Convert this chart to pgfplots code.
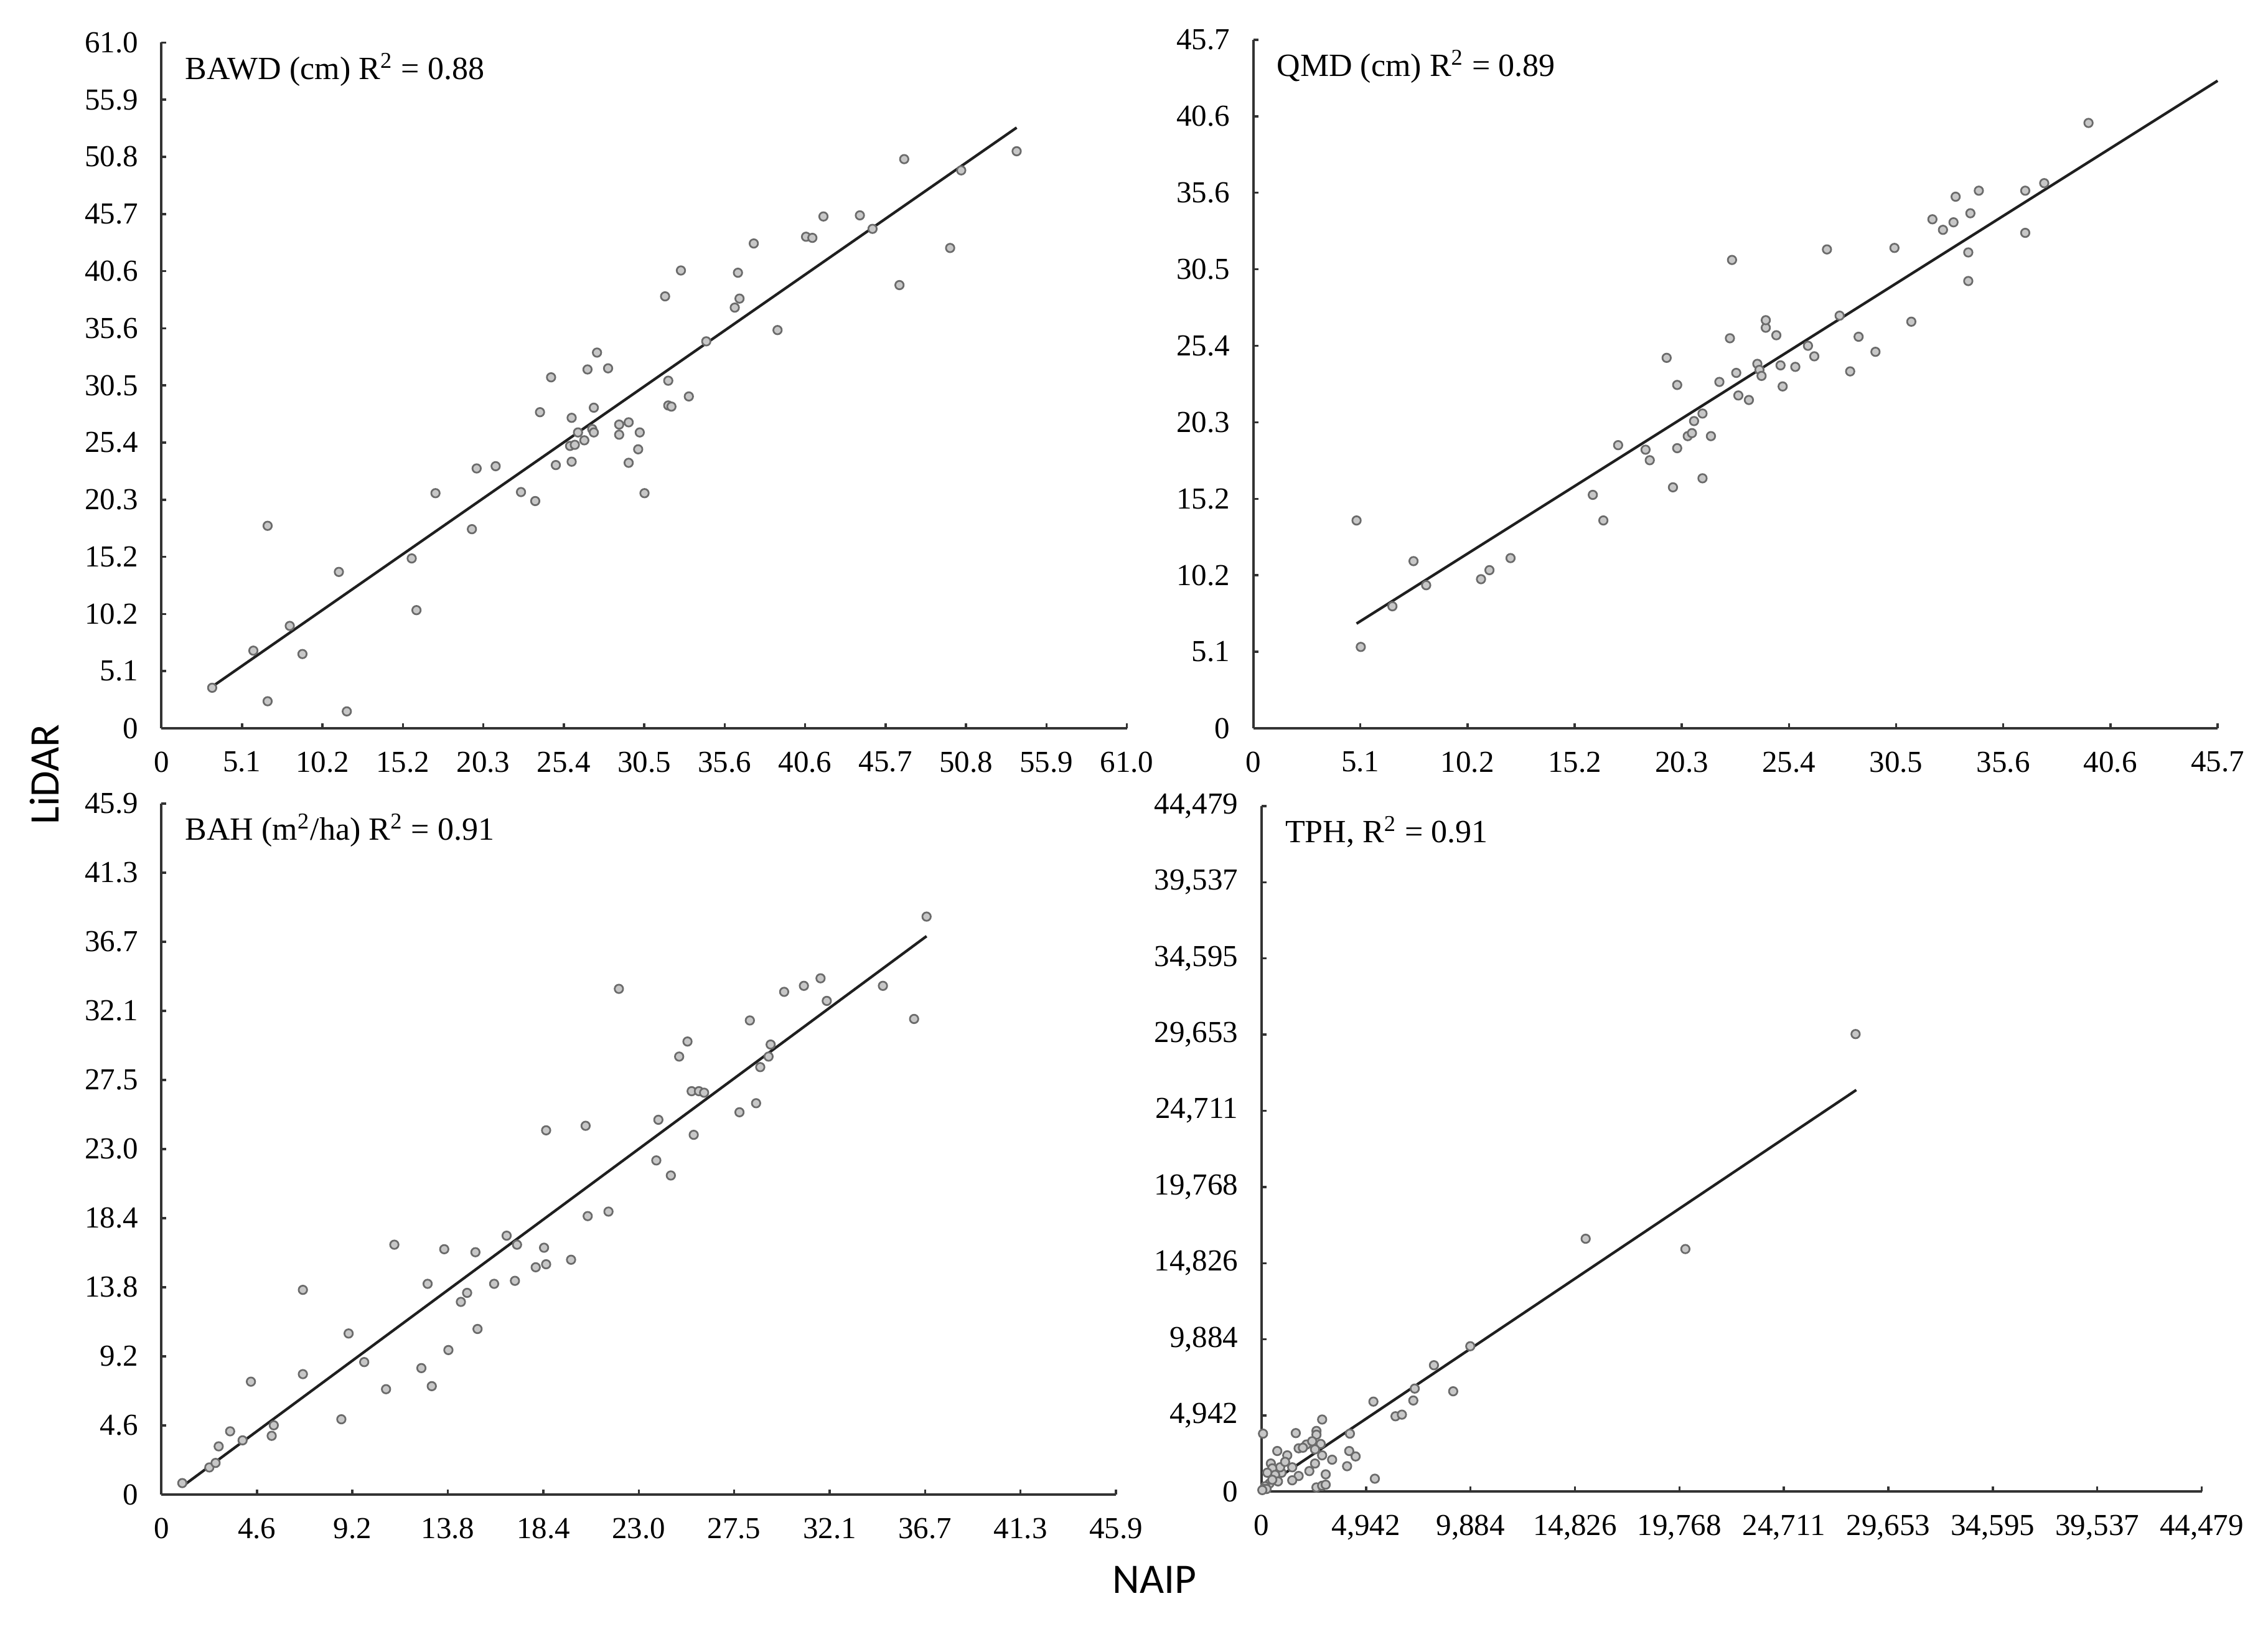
\documentclass[border=0pt]{standalone}
\usepackage{fontspec}
\setmainfont{Liberation Serif}
\newfontfamily\carlito{Carlito}
\usepackage{pgfplots}
\pgfplotsset{compat=1.18}
\pgfplotsset{
  myax/.style={
    scale only axis,
    anchor=south west,
    axis lines=left,
    axis line style={-, line width=0.8pt, black!80},
    tick align=inside,
    major tick length=1.6pt,
    tick style={line width=0.7pt, black!80},
    ymin=0, xmin=0,
    clip=false,
    tick label style={font=\fontsize{9.8}{10}\selectfont},
    xticklabel style={yshift=-4.0pt},
    yticklabel style={xshift=-4.0pt},
  },
  pts/.style={only marks, mark=*, mark size=1.35pt,
    mark options={fill=black!22, draw=black!58, line width=0.55pt}},
  fit/.style={no marks, line width=0.85pt, black!88},
}
\newcommand{\ptitle}[1]{\node[anchor=base west, inner sep=0pt, font=\fontsize{10.4}{11}\selectfont] at ([xshift=7.4pt,yshift=-11.8pt]rel axis cs:0,1) {#1};}
\begin{document}
\begin{tikzpicture}
\useasboundingbox (0,0) rectangle (728.8pt,523.4pt);

% ---------- Panel 1: BAWD ----------
\begin{axis}[myax, at={(51.9pt,289.4pt)}, width=310.2pt, height=220.3pt,
  xmax=60.96, ymax=60.96,
  xtick={0,5.08,10.16,15.24,20.32,25.4,30.48,35.56,40.64,45.72,50.8,55.88,60.96},
  xticklabels={0,5.1,10.2,15.2,20.3,25.4,30.5,35.6,40.6,45.7,50.8,55.9,61.0},
  ytick={0,5.08,10.16,15.24,20.32,25.4,30.48,35.56,40.64,45.72,50.8,55.88,60.96},
  yticklabels={0,5.1,10.2,15.2,20.3,25.4,30.5,35.6,40.6,45.7,50.8,55.9,61.0}]
\addplot[pts] coordinates {
(3.2,3.6) (5.8,6.9) (6.7,18.0) (6.7,2.4) (8.1,9.1) (8.9,6.6) (11.2,13.9) (11.7,1.5)
(15.8,15.1) (16.1,10.5) (17.3,20.9) (19.6,17.7) (19.9,23.1) (21.1,23.3) (22.7,21.0)
(23.6,20.2) (23.9,28.1) (24.6,31.2) (24.9,23.4) (25.9,27.6) (25.9,23.7) (25.8,25.1)
(26.1,25.2) (26.3,26.3) (26.7,25.6) (26.9,31.9) (27.2,26.6) (27.3,26.3) (27.3,28.5)
(27.5,33.4) (28.2,32.0) (28.9,26.1) (28.9,27.0) (29.5,27.2) (29.5,23.6) (30.1,24.8)
(30.2,26.3) (30.5,20.9) (31.8,38.4) (32.0,30.9) (32.0,28.7) (32.2,28.6) (32.8,40.7)
(33.3,29.5) (34.4,34.4) (36.2,37.4) (36.5,38.2) (36.4,40.5) (37.4,43.1) (38.9,35.4)
(40.7,43.7) (41.1,43.6) (41.8,45.5) (44.1,45.6) (44.9,44.4) (46.6,39.4) (46.9,50.6)
(49.8,42.7) (50.5,49.6) (54.0,51.3)
};
\addplot[fit] coordinates {(3.2,3.7) (54.0,53.4)};
\ptitle{BAWD (cm) R\textsuperscript{2} = 0.88}
\end{axis}

% ---------- Panel 2: QMD ----------
\begin{axis}[myax, at={(402.7pt,289.4pt)}, width=309.9pt, height=221.2pt,
  xmax=45.72, ymax=45.72,
  xtick={0,5.08,10.16,15.24,20.32,25.4,30.48,35.56,40.64,45.72},
  xticklabels={0,5.1,10.2,15.2,20.3,25.4,30.5,35.6,40.6,45.7},
  ytick={0,5.08,10.16,15.24,20.32,25.4,30.48,35.56,40.64,45.72},
  yticklabels={0,5.1,10.2,15.2,20.3,25.4,30.5,35.6,40.6,45.7}]
\addplot[pts] coordinates {
(4.9,13.8) (5.1,5.4) (6.6,8.1) (7.6,11.1) (8.2,9.5) (10.8,9.9) (11.2,10.5) (12.2,11.3)
(16.1,15.5) (16.6,13.8) (17.3,18.8) (18.6,18.5) (18.8,17.8) (19.6,24.6) (19.9,16.0)
(20.1,22.8) (20.1,18.6) (20.6,19.4) (20.8,19.6) (20.9,20.4) (21.3,20.9) (21.3,16.6)
(21.7,19.4) (22.1,23.0) (22.6,25.9) (22.7,31.1) (22.9,23.6) (23.0,22.1) (23.5,21.8)
(23.9,24.2) (24.0,23.8) (24.1,23.4) (24.3,26.6) (24.3,27.1) (24.8,26.1) (25.0,24.1)
(25.1,22.7) (25.7,24.0) (26.3,25.4) (26.6,24.7) (27.2,31.8) (27.8,27.4) (28.3,23.7)
(28.7,26.0) (29.5,25.0) (30.4,31.9) (31.2,27.0) (32.2,33.8) (32.7,33.1) (33.2,33.6)
(33.3,35.3) (33.9,31.6) (33.9,29.7) (34.0,34.2) (34.4,35.7) (36.6,35.7) (36.6,32.9)
(37.5,36.2) (39.6,40.2)
};
\addplot[fit] coordinates {(4.9,6.95) (45.72,43.0)};
\ptitle{QMD (cm) R\textsuperscript{2} = 0.89}
\end{axis}

% ---------- Panel 3: BAH ----------
\begin{axis}[myax, at={(51.9pt,43.2pt)}, width=306.7pt, height=222.0pt,
  xmax=45.91, ymax=45.91,
  xtick={0,4.591,9.182,13.773,18.364,22.955,27.546,32.137,36.728,41.319,45.91},
  xticklabels={0,4.6,9.2,13.8,18.4,23.0,27.5,32.1,36.7,41.3,45.9},
  ytick={0,4.591,9.182,13.773,18.364,22.955,27.546,32.137,36.728,41.319,45.91},
  yticklabels={0,4.6,9.2,13.8,18.4,23.0,27.5,32.1,36.7,41.3,45.9}]
\addplot[pts] coordinates {
(1.0,0.76) (2.3,1.8) (2.6,2.1) (2.75,3.2) (3.3,4.2) (3.9,3.6) (4.3,7.5) (5.3,3.9)
(5.4,4.6) (6.8,13.6) (6.8,8.0) (8.65,5.0) (9.0,10.7) (9.75,8.8) (10.8,7.0) (11.2,16.6)
(12.5,8.4) (12.8,14.0) (13.0,7.2) (13.6,16.3) (13.8,9.6) (14.4,12.8) (14.7,13.4)
(15.1,16.1) (15.2,11.0) (16.0,14.0) (16.6,17.2) (17.0,14.2) (17.1,16.6) (18.0,15.1)
(18.4,16.4) (18.5,15.3) (18.5,24.2) (19.7,15.6) (20.4,24.5) (20.5,18.5) (21.5,18.8)
(22.0,33.6) (23.8,22.2) (23.9,24.9) (24.5,21.2) (24.9,29.1) (25.3,30.1) (25.5,26.8)
(25.6,23.9) (25.85,26.8) (26.1,26.7) (27.8,25.4) (28.3,31.5) (28.6,26.0) (28.8,28.4)
(29.2,29.1) (29.3,29.9) (29.95,33.4) (30.9,33.8) (31.7,34.3) (32.0,32.8) (34.7,33.8)
(36.2,31.6) (36.8,38.4)
};
\addplot[fit] coordinates {(1.0,0.54) (36.8,37.1)};
\ptitle{BAH (m\textsuperscript{2}/ha) R\textsuperscript{2} = 0.91}
\end{axis}

% ---------- Panel 4: TPH ----------
\begin{axis}[myax, at={(405.4pt,44.1pt)}, width=302.1pt, height=220.3pt,
  xmax=44479, ymax=44479,
  scaled ticks=false,
  xtick={0,4942.1,9884.2,14826.3,19768.4,24710.5,29652.6,34594.7,39536.8,44479},
  xticklabels={0,{4,942},{9,884},{14,826},{19,768},{24,711},{29,653},{34,595},{39,537},{44,479}},
  ytick={0,4942.1,9884.2,14826.3,19768.4,24710.5,29652.6,34594.7,39536.8,44479},
  yticklabels={0,{4,942},{9,884},{14,826},{19,768},{24,711},{29,653},{34,595},{39,537},{44,479}}]
\addplot[pts] coordinates {
(28102,29688) (15332,16411) (20049,15742) (9873,9438) (8154,8206) (9064,6515)
(7245,6691) (7177,5917) (5290,5846) (6335,4895) (6638,5001) (5358,845) (4178,3768)
(4145,2641) (4448,2289) (4044,1655) (2864,4684) (2595,3944) (2595,3698) (2797,3099)
(2864,2360) (3336,2078) (3033,1127) (2527,1831) (2595,282) (2864,387) (3033,458)
(1617,3803) (1752,2817) (2123,3064) (1954,2853) (1213,2360) (741,2641) (2258,1338)
(1752,1021) (1449,1585) (1449,740) (944,1233) (876,1585) (438,1831) (505,1514)
(640,1092) (775,669) (371,528) (168,352) (101,176) (67,3768) (270,1233) (505,775)
(236,176) (2392,3275) (2527,2747) (34,106) (1112,1937)
};
\addplot[fit] coordinates {(100,282) (28136,26061)};
\ptitle{TPH, R\textsuperscript{2} = 0.91}
\end{axis}

% ---------- shared axis labels ----------
\node[rotate=90, font=\carlito\fontsize{13.5}{15}\selectfont, inner sep=0pt] at (14.3pt,274.6pt) {LiDAR};
\node[font=\carlito\fontsize{13.5}{15}\selectfont, inner sep=0pt] at (371pt,15.9pt) {NAIP};
\end{tikzpicture}
\end{document}
